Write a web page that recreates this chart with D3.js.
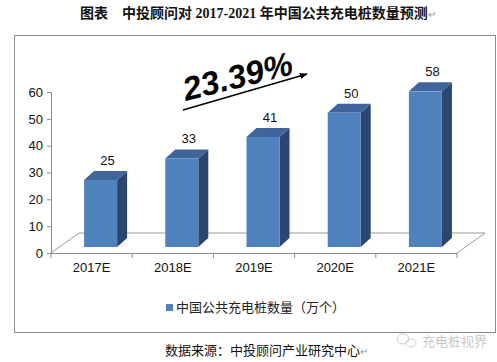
<!DOCTYPE html>
<html>
<head>
<meta charset="utf-8">
<script src="https://cdn.jsdelivr.net/npm/d3@7"></script>
<style>
  body { margin: 0; background: #fff; }
  svg { display: block; }
</style>
</head>
<body>
<svg id="chart" width="497" height="362"></svg>
<script>
const categories = ["2017E", "2018E", "2019E", "2020E", "2021E"];
const values = [25, 33, 41, 50, 58];
const yTicks = [0, 10, 20, 30, 40, 50, 60];
const seriesName = "中国公共充电桩数量（万个）";
const growthLabel = "23.39%";
const titleText = "图表　中投顾问对 2017-2021 年中国公共充电桩数量预测";
const sourceText = "数据来源：中投顾问产业研究中心";

const svg = d3.select("#chart");
const sans = "'Liberation Sans', Arial, sans-serif";
const cjk = "'Noto Sans CJK SC', sans-serif";

// title
const title = svg.append("text")
  .attr("x", 80).attr("y", 18)
  .attr("font-family", "'Liberation Serif', 'Noto Sans CJK SC', serif")
  .attr("font-weight", "bold")
  .attr("font-size", "14px")
  .attr("fill", "#111");
title.append("tspan").text(titleText);
title.append("tspan").attr("fill", "#999").attr("font-weight", "normal")
  .attr("font-size", "10px").text("↵");

// chart frame
svg.append("rect")
  .attr("x", 14.5).attr("y", 35.5)
  .attr("width", 481).attr("height", 297)
  .attr("fill", "#fff")
  .attr("stroke", "#8c8c8c");

// scales
const x = d3.scaleBand().domain(categories).range([51, 457]);
const y = d3.scaleLinear().domain([0, 60]).range([253, 92]);

// 3d floor
const fdx = 28, fdy = -20;
const floor = svg.append("g").attr("stroke", "#9a9a9a").attr("fill", "none");
floor.append("line").attr("x1", 51 + fdx).attr("y1", y(0) + fdy)
  .attr("x2", 457 + fdx).attr("y2", y(0) + fdy);
floor.append("line").attr("x1", 51).attr("y1", y(0))
  .attr("x2", 51 + fdx).attr("y2", y(0) + fdy);
floor.append("line").attr("x1", 457).attr("y1", y(0))
  .attr("x2", 457 + fdx).attr("y2", y(0) + fdy);

// axes
const yAxis = svg.append("g")
  .attr("transform", "translate(51,0)")
  .call(d3.axisLeft(y).tickValues(yTicks).tickSize(4).tickPadding(4));
const xAxis = svg.append("g")
  .attr("transform", `translate(0,${y(0)})`)
  .call(d3.axisBottom(x).tickSize(0).tickPadding(10));
[yAxis, xAxis].forEach(a => {
  a.select(".domain").attr("stroke", "#8c8c8c");
  a.selectAll("line").attr("stroke", "#8c8c8c");
  a.selectAll("text").attr("font-family", sans).attr("font-size", "13px").attr("fill", "#111");
});
// category boundary ticks
xAxis.selectAll(".sep")
  .data(d3.range(categories.length + 1))
  .join("line")
  .attr("x1", i => 51 + i * x.step()).attr("x2", i => 51 + i * x.step())
  .attr("y1", 0).attr("y2", 5)
  .attr("stroke", "#8c8c8c");

// 3d bars
const bw = 33, bdx = 10, bdy = -9, shiftX = 9, shiftY = -6;
const bars = svg.append("g").selectAll("g")
  .data(categories.map((c, i) => ({ c, v: values[i] })))
  .join("g");

const bx = d => x(d.c) + x.bandwidth() / 2 + shiftX - bw / 2;
const barTop = d => y(d.v) + shiftY;
const barBottom = y(0) + shiftY;

bars.append("path")
  .attr("fill", "#2b4670")
  .attr("d", d => `M${bx(d) + bw},${barTop(d)} L${bx(d) + bw + bdx},${barTop(d) + bdy} L${bx(d) + bw + bdx},${barBottom + bdy} L${bx(d) + bw},${barBottom} Z`);
bars.append("path")
  .attr("fill", "#40659b")
  .attr("d", d => `M${bx(d)},${barTop(d)} L${bx(d) + bdx},${barTop(d) + bdy} L${bx(d) + bw + bdx},${barTop(d) + bdy} L${bx(d) + bw},${barTop(d)} Z`);
bars.append("rect")
  .attr("x", bx).attr("y", barTop)
  .attr("width", bw).attr("height", d => barBottom - barTop(d))
  .attr("fill", "#4f81bd");

bars.append("text")
  .attr("x", d => bx(d) + bw / 2 + 7)
  .attr("y", d => barTop(d) + bdy - 6)
  .attr("text-anchor", "middle")
  .attr("font-family", sans).attr("font-size", "13px").attr("fill", "#111")
  .text(d => d.v);

// growth annotation
const defs = svg.append("defs");
defs.append("marker")
  .attr("id", "arrow").attr("viewBox", "0 0 10 10")
  .attr("refX", 9).attr("refY", 5)
  .attr("markerWidth", 8).attr("markerHeight", 8)
  .attr("markerUnits", "userSpaceOnUse")
  .attr("orient", "auto")
  .append("path").attr("d", "M0,1 L10,5 L0,9 Z").attr("fill", "#000");
svg.append("line")
  .attr("x1", 183).attr("y1", 110).attr("x2", 307).attr("y2", 74)
  .attr("stroke", "#000").attr("stroke-width", 1.6)
  .attr("marker-end", "url(#arrow)");
svg.append("text")
  .attr("transform", "translate(186,101) rotate(-14)")
  .attr("font-family", sans).attr("font-style", "italic").attr("font-weight", "bold")
  .attr("font-size", "33px").attr("fill", "#000")
  .text(growthLabel);

// legend
svg.append("rect")
  .attr("x", 166).attr("y", 304).attr("width", 7).attr("height", 7)
  .attr("fill", "#4f81bd");
svg.append("text")
  .attr("x", 176).attr("y", 312)
  .attr("font-family", cjk).attr("font-size", "13px").attr("fill", "#222")
  .text(seriesName);

// source
const src = svg.append("text")
  .attr("x", 165).attr("y", 355)
  .attr("font-family", cjk).attr("font-size", "13px").attr("fill", "#111");
src.append("tspan").text(sourceText);
src.append("tspan").attr("fill", "#999").attr("font-size", "10px").text("↵");

// watermark
const wm = svg.append("g").attr("opacity", 0.55);
wm.append("ellipse").attr("cx", 403).attr("cy", 339).attr("rx", 6).attr("ry", 5)
  .attr("fill", "none").attr("stroke", "#aaa");
wm.append("ellipse").attr("cx", 411).attr("cy", 343).attr("rx", 5).attr("ry", 4)
  .attr("fill", "none").attr("stroke", "#aaa");
wm.append("text")
  .attr("x", 422).attr("y", 346)
  .attr("font-family", cjk).attr("font-size", "13px").attr("fill", "#999")
  .text("充电桩视界");
</script>
</body>
</html>
